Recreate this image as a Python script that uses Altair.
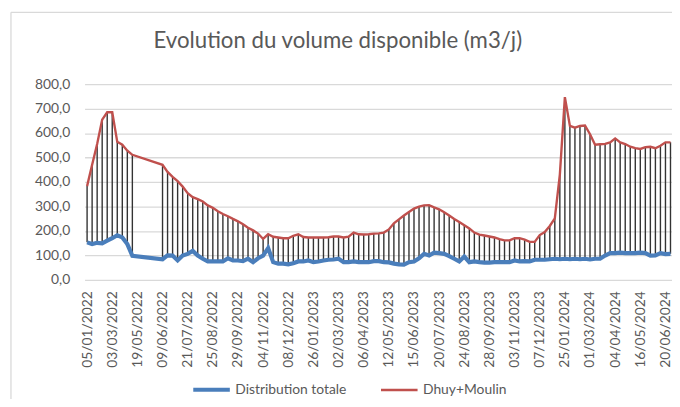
import altair as alt
import pandas as pd

# ---- data ----
tick_labels = ["05/01/2022", "03/03/2022", "19/05/2022", "09/06/2022", "21/07/2022",
               "25/08/2022", "29/09/2022", "04/11/2022", "08/12/2022", "26/01/2023",
               "02/03/2023", "06/04/2023", "12/05/2023", "15/06/2023", "20/07/2023",
               "24/08/2023", "28/09/2023", "03/11/2023", "07/12/2023", "25/01/2024",
               "01/03/2024", "04/04/2024", "16/05/2024", "20/06/2024"]
labels_every = 5  # one tick label every 5 categories

dhuy_moulin = [383, 470, 555, 655, 685, 685, 564, 552, 528, 511,
               None, None, None, None, None,
               470, 441, 421, 403, 381, 354, 338, 330, 320, 304,
               294, 280, 269, 260, 249, 239, 227, 213, 202, 189,
               167, 186, 176, 173, 170, 170, 180, 186, 175, 173,
               173, 173, 173, 174, 177, 177, 173, 176, 193, 186,
               185, 186, 189, 190, 193, 206, 231, 247, 263, 277,
               291, 299, 304, 305, 296, 288, 276, 263, 249, 236,
               223, 210, 193, 185, 181, 177, 173, 166, 161, 161,
               170, 170, 164, 155, 155, 183, 195, 220, 251, 430,
               747, 629, 622, 629, 631, 595, 552, 554, 556, 562,
               578, 562, 555, 544, 538, 535, 542, 544, 538, 548,
               562, 562]

distribution = [153, 146, 151, 149, 160, 170, 182, 173, 146, 98,
                None, None, None, None, None,
                84, 100, 99, 79, 99, 106, 118, 99, 86, 75,
                75, 75, 75, 88, 79, 79, 76, 86, 72, 88,
                99, 130, 72, 66, 66, 63, 68, 75, 75, 79,
                72, 75, 79, 82, 83, 86, 72, 72, 75, 72,
                72, 72, 76, 76, 72, 71, 66, 63, 62, 72,
                75, 88, 106, 99, 111, 109, 106, 97, 86, 75,
                95, 72, 75, 72, 70, 70, 72, 72, 72, 72,
                79, 75, 76, 75, 82, 82, 82, 84, 86, 84,
                86, 84, 86, 84, 86, 83, 86, 86, 99, 109,
                109, 111, 109, 109, 109, 111, 109, 99, 100, 109,
                105, 106]

series_names = ["Distribution totale", "Dhuy+Moulin"]
series_colors = ["#4A7EBB", "#C0504D"]
series_widths = [4.2, 2.4]

# ---- tables ----
idx = list(range(len(dhuy_moulin)))
wide = pd.DataFrame({"i": idx, "low": distribution, "high": dhuy_moulin}).dropna()
long = pd.concat([
    pd.DataFrame({"i": idx, "v": distribution, "s": series_names[0]}),
    pd.DataFrame({"i": idx, "v": dhuy_moulin, "s": series_names[1]}),
]).dropna()

FONT = "Lato"
GREY = "#595959"
GRID = "#D9D9D9"

xscale = alt.Scale(domain=[-0.5, 116.3], nice=False, zero=False)
yscale = alt.Scale(domain=[0, 800], nice=False, zero=True)

label_expr = "[" + ",".join("'%s'" % t for t in tick_labels) + "][round(datum.value/%d)]" % labels_every

xaxis = alt.Axis(values=[labels_every * k for k in range(len(tick_labels))],
                 labelExpr=label_expr, labelAngle=270, labelPadding=11,
                 ticks=False, tickSize=0, domain=False, grid=False, title=None,
                 labelOverlap=False, labelFlush=False, labelBound=False,
                 labelFont=FONT, labelFontSize=14, labelColor=GREY)
yaxis = alt.Axis(values=[0, 100, 200, 300, 400, 500, 600, 700, 800],
                 labelExpr="replace(format(datum.value, '.1f'), '.', ',')",
                 ticks=False, tickSize=0, domain=False, grid=True, labelOverlap=False,
                 gridColor=GRID, gridWidth=1.3, labelPadding=15, title=None,
                 labelFont=FONT, labelFontSize=14, labelColor=GREY)

legend = alt.Legend(orient="none", legendX=107.5, legendY=288, direction="horizontal",
                    columns=2, symbolType="stroke", symbolSize=1369, labelFont=FONT,
                    labelFontSize=14, labelColor=GREY, labelOffset=3, columnPadding=29,
                    padding=0, title=None)
color = alt.Color("s:N", scale=alt.Scale(domain=series_names, range=series_colors), legend=legend)
width_enc = alt.StrokeWidth("s:N", scale=alt.Scale(domain=series_names, range=series_widths), legend=legend)

X = alt.X("i:Q", scale=xscale, axis=xaxis)

rules = alt.Chart(wide).mark_rule(color="#333333", strokeWidth=1.4, clip=True).encode(
    x=X,
    y=alt.Y("low:Q", scale=yscale, axis=yaxis),
    y2="high:Q",
)

line_red = alt.Chart(long).transform_filter(alt.datum.s == series_names[1]).mark_line(clip=True).encode(
    x=X, y=alt.Y("v:Q", scale=yscale, axis=yaxis), color=color, strokeWidth=width_enc,
)
line_blue = alt.Chart(long).transform_filter(alt.datum.s == series_names[0]).mark_line(clip=True).encode(
    x=X, y=alt.Y("v:Q", scale=yscale, axis=yaxis), color=color, strokeWidth=width_enc,
)

frame_src = pd.DataFrame({"k": [0]})
frame_top = alt.Chart(frame_src).mark_rule(color=GRID, strokeWidth=1.3).encode(
    x=alt.value(-74.5), x2=alt.value(700), y=alt.value(-72.7))
frame_left = alt.Chart(frame_src).mark_rule(color=GRID, strokeWidth=1.3).encode(
    x=alt.value(-74.5), y=alt.value(-72.7), y2=alt.value(400))

chart = alt.layer(frame_top, frame_left, rules, line_red, line_blue).properties(
    width=594.5, height=198,
    autosize=alt.AutoSizeParams(type="none"),
    padding={"left": 77.5, "top": 74.7, "right": 0, "bottom": 118.3},
    title=alt.TitleParams("Evolution du volume disponible (m3/j)", font=FONT, fontSize=22.5,
                          color=GREY, fontWeight="normal", anchor="middle", dx=-41, dy=45),
).configure_view(strokeWidth=0).configure_axis(labelOverlap=False)

chart.save("out.html", embed_options={"renderer": "svg", "actions": False})
